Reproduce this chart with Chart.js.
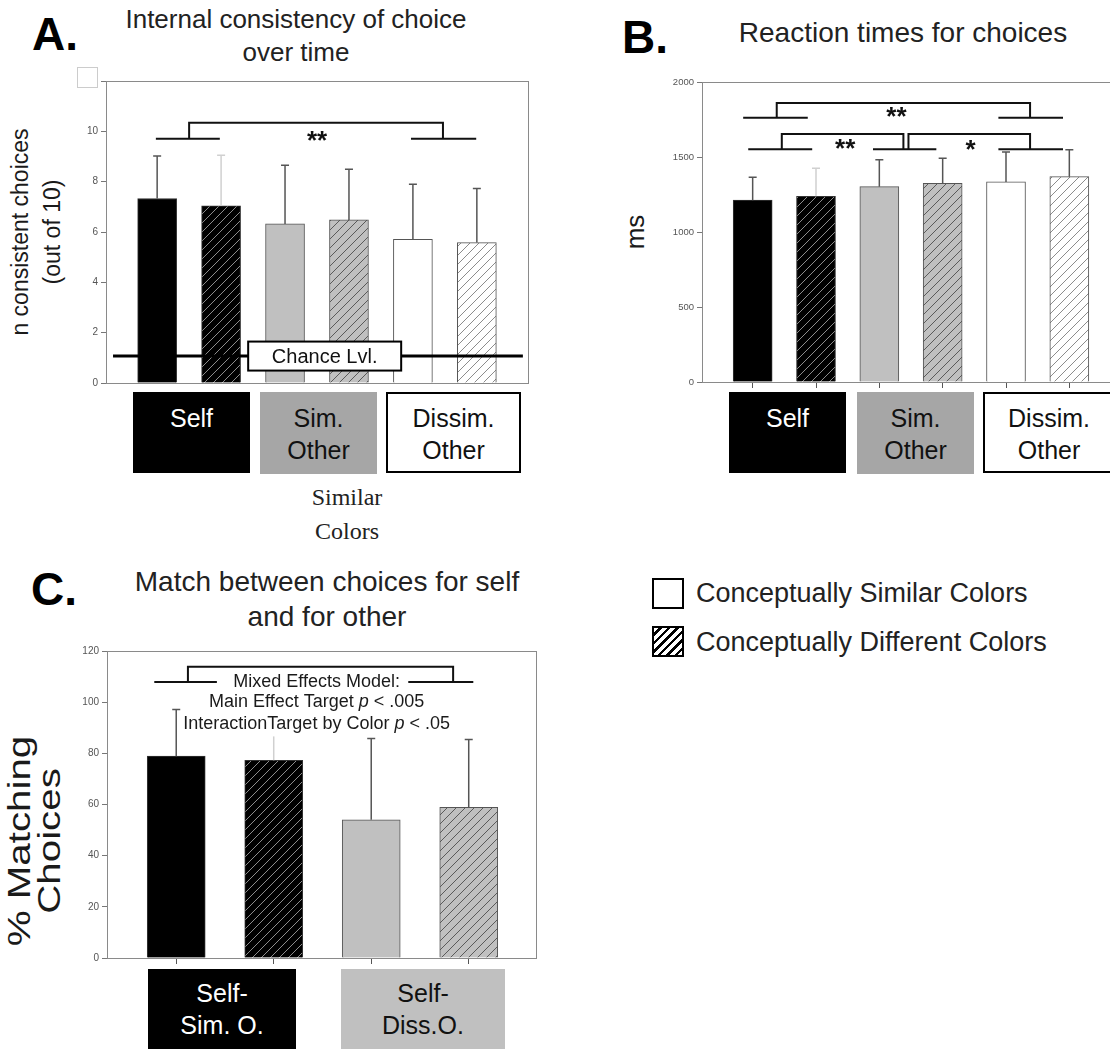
<!DOCTYPE html>
<html><head><meta charset="utf-8">
<script src="https://cdn.jsdelivr.net/npm/chart.js@4.4.1/dist/chart.umd.min.js"></script>
<style>
html,body{margin:0;padding:0;background:#fff;overflow:hidden;width:1110px;height:1049px;}
body{position:relative;font-family:"Liberation Sans",Arial,sans-serif;color:#1a1a1a;}
canvas{position:absolute;}
.t{position:absolute;text-align:center;white-space:nowrap;color:#222;}
.letter{position:absolute;font-weight:bold;font-size:46px;line-height:46px;color:#000;}
.ylab{position:absolute;text-align:center;white-space:nowrap;transform-origin:center center;color:#1a1a1a;}
.box{position:absolute;box-sizing:border-box;text-align:center;font-size:25px;line-height:32px;white-space:nowrap;overflow:hidden;}
</style></head>
<body>
<div class="letter" style="left:32px;top:11px;">A.</div>
<div class="t" style="left:96px;top:3px;width:400px;font-size:26px;line-height:33px;">Internal consistency of choice<br>over time</div>
<div style="position:absolute;left:77px;top:67px;width:19px;height:19px;border:1px solid #ccc;"></div>
<div class="ylab" style="left:-94px;top:200px;width:260px;height:64px;font-size:23px;line-height:32px;transform:rotate(-90deg);">n consistent choices<br>(out of 10)</div>
<canvas id="cA" width="500" height="330" style="left:40px;top:70px;"></canvas>
<div class="box" style="left:133px;top:392px;width:117px;height:81px;background:#000;color:#fff;padding-top:10px;">Self</div>
<div class="box" style="left:260px;top:392px;width:117px;height:82px;background:#a6a6a6;color:#111;padding-top:10px;">Sim.<br>Other</div>
<div class="box" style="left:386px;top:392px;width:135px;height:81px;background:#fff;border:2px solid #000;color:#111;padding-top:8px;">Dissim.<br>Other</div>
<div class="t" style="left:247px;top:480px;width:200px;font-family:'Liberation Serif','Times New Roman',serif;font-size:24px;line-height:34px;color:#222;">Similar<br>Colors</div>

<div class="letter" style="left:622px;top:14px;">B.</div>
<div class="t" style="left:703px;top:16px;width:400px;font-size:28px;line-height:34px;">Reaction times for choices</div>
<div class="ylab" style="left:585px;top:216px;width:100px;height:32px;font-size:26px;line-height:32px;transform:rotate(-90deg);">ms</div>
<canvas id="cB" width="510" height="340" style="left:620px;top:60px;"></canvas>
<div class="box" style="left:729px;top:392px;width:117px;height:81px;background:#000;color:#fff;padding-top:10px;">Self</div>
<div class="box" style="left:857px;top:392px;width:117px;height:82px;background:#a6a6a6;color:#111;padding-top:10px;">Sim.<br>Other</div>
<div class="box" style="left:983px;top:392px;width:132px;height:81px;background:#fff;border:2px solid #000;color:#111;padding-top:8px;">Dissim.<br>Other</div>

<div class="letter" style="left:31px;top:566px;">C.</div>
<div class="t" style="left:107px;top:564px;width:440px;font-size:28px;line-height:35px;">Match between choices for self<br>and for other</div>
<div class="ylab" style="left:-115px;top:811px;width:300px;height:60px;font-size:31px;line-height:30px;transform:rotate(-90deg) scale(1.3,1);">% Matching<br>Choices</div>
<canvas id="cC" width="510" height="345" style="left:40px;top:630px;"></canvas>
<div class="box" style="left:148px;top:969px;width:148px;height:90px;background:#000;color:#fff;padding-top:8px;">Self-<br>Sim. O.</div>
<div class="box" style="left:341px;top:969px;width:164px;height:90px;background:#c0c0c0;color:#111;padding-top:8px;">Self-<br>Diss.O.</div>

<div style="position:absolute;left:652px;top:578px;width:28px;height:27px;border:2px solid #000;background:#fff;"></div>
<div class="t" style="left:696px;top:576px;font-size:27px;line-height:34px;text-align:left;">Conceptually Similar Colors</div>
<div style="position:absolute;left:652px;top:626px;width:28px;height:27px;border:2px solid #000;background:repeating-linear-gradient(135deg,#fff 0px,#fff 3.5px,#000 3.5px,#000 6px);"></div>
<div class="t" style="left:696px;top:625px;font-size:27px;line-height:34px;text-align:left;">Conceptually Different Colors</div>

<script>
const FONT = '"Liberation Sans", Arial, sans-serif';

// ---------- Panel A: internal consistency (n of 10) ----------
const groupsA = ['Self', 'Self', 'Sim. Other', 'Sim. Other', 'Dissim. Other', 'Dissim. Other'];
const colorCondA = ['Similar', 'Different', 'Similar', 'Different', 'Similar', 'Different'];
const positionsA = [1, 2, 3, 4, 5, 6];
const valuesA = [7.33, 7.04, 6.32, 6.48, 5.71, 5.58];
const errorsA = [1.69, 2.01, 2.33, 2.01, 2.19, 2.15];
const ticksA = [0, 2, 4, 6, 8, 10, 12];
const chanceLevelA = 1.07;

// ---------- Panel B: reaction times (ms) ----------
const groupsB = ['Self', 'Self', 'Sim. Other', 'Sim. Other', 'Dissim. Other', 'Dissim. Other'];
const positionsB = [1, 2, 3, 4, 5, 6];
const valuesB = [1212, 1238, 1302, 1325, 1334, 1369];
const errorsB = [153, 187, 180, 166, 199, 179];
const ticksB = [0, 500, 1000, 1500, 2000];

// ---------- Panel C: % matching choices ----------
const groupsC = ['Self-Sim. O.', 'Self-Sim. O.', 'Self-Diss.O.', 'Self-Diss.O.'];
const positionsC = [1, 2, 3, 4];
const valuesC = [78.9, 77.3, 54.0, 58.9];
const errorsC = [18.2, 16.0, 31.8, 26.5];
const ticksC = [0, 20, 40, 60, 80, 100, 120];

function hatch(bg, fg, size, lw) {
  const c = document.createElement('canvas');
  c.width = c.height = size;
  const x = c.getContext('2d');
  x.fillStyle = bg; x.fillRect(0, 0, size, size);
  x.strokeStyle = fg; x.lineWidth = lw;
  x.beginPath();
  x.moveTo(0, size); x.lineTo(size, 0);
  x.moveTo(-size / 2, size / 2); x.lineTo(size / 2, -size / 2);
  x.moveTo(size / 2, size * 1.5); x.lineTo(size * 1.5, size / 2);
  x.stroke();
  return x.createPattern(c, 'repeat');
}
const F = {
  black: '#000000',
  blackH: hatch('#000000', '#8c8c8c', 9, 1),
  gray: '#c0c0c0',
  grayH: hatch('#c0c0c0', '#5a5a5a', 9, 1),
  white: '#ffffff',
  whiteH: hatch('#ffffff', '#8c8c8c', 9, 1)
};

function drawRich(ctx, segs, cx, cy, size, bg) {
  let w = 0;
  const parts = segs.map(s => {
    const it = typeof s !== 'string';
    const txt = it ? s.i : s;
    ctx.font = (it ? 'italic ' : '') + size + 'px ' + FONT;
    const m = ctx.measureText(txt).width;
    w += m;
    return {txt, it, m};
  });
  let x = cx - w / 2;
  if (bg) { ctx.fillStyle = '#fff'; ctx.fillRect(x - 3, cy - size * 0.62, w + 6, size * 1.3); }
  ctx.fillStyle = '#1a1a1a';
  ctx.textBaseline = 'middle'; ctx.textAlign = 'left';
  parts.forEach(p => {
    ctx.font = (p.it ? 'italic ' : '') + size + 'px ' + FONT;
    ctx.fillText(p.txt, x, cy);
    x += p.m;
  });
}

function annoPlugin(cfg) {
  return {
    id: 'anno',
    afterDatasetsDraw(chart) {
      const ctx = chart.ctx, xs = chart.scales.x, ys = chart.scales.y, ca = chart.chartArea;
      const X = v => xs.getPixelForValue(v), Y = v => ys.getPixelForValue(v);
      ctx.save();
      // frame
      ctx.strokeStyle = '#8a8a8a'; ctx.lineWidth = 1;
      ctx.strokeRect(Math.round(ca.left) + 0.5, Math.round(ca.top) + 0.5, Math.round(ca.right - ca.left), Math.round(ca.bottom - ca.top));
      // error bars
      cfg.vals.forEach((v, i) => {
        const x = X(cfg.pos[i]), y0 = Y(v), y1 = Y(v + cfg.err[i]);
        ctx.strokeStyle = cfg.errColors[i]; ctx.lineWidth = 1.5;
        ctx.beginPath();
        ctx.moveTo(x, y0); ctx.lineTo(x, y1);
        ctx.moveTo(x - 4, y1); ctx.lineTo(x + 4, y1);
        ctx.stroke();
      });
      // chance level line
      if (cfg.chance) {
        const c = cfg.chance;
        ctx.strokeStyle = '#000'; ctx.lineWidth = 3;
        ctx.beginPath(); ctx.moveTo(X(c.x1), Y(c.y)); ctx.lineTo(X(c.x2), Y(c.y)); ctx.stroke();
        const bx = X(c.boxX), by = Y(c.y);
        ctx.fillStyle = '#fff';
        ctx.fillRect(bx - c.w / 2, by - c.h / 2, c.w, c.h);
        ctx.lineWidth = 2; ctx.strokeStyle = '#000';
        ctx.strokeRect(bx - c.w / 2, by - c.h / 2, c.w, c.h);
        ctx.fillStyle = '#111'; ctx.font = '20px ' + FONT;
        ctx.textAlign = 'center'; ctx.textBaseline = 'middle';
        ctx.fillText(c.text, bx, by + 1);
      }
      // significance brackets
      ctx.strokeStyle = '#111'; ctx.lineWidth = 2;
      (cfg.short || []).forEach(s => {
        ctx.beginPath(); ctx.moveTo(X(s[0]), Y(s[2])); ctx.lineTo(X(s[1]), Y(s[2])); ctx.stroke();
      });
      (cfg.brackets || []).forEach(b => {
        ctx.beginPath();
        ctx.moveTo(X(b[0]), Y(b[2])); ctx.lineTo(X(b[0]), Y(b[3]));
        ctx.lineTo(X(b[1]), Y(b[3])); ctx.lineTo(X(b[1]), Y(b[2]));
        ctx.stroke();
      });
      (cfg.stars || []).forEach(s => {
        ctx.fillStyle = '#111'; ctx.font = 'bold 26px ' + FONT;
        ctx.textAlign = 'center'; ctx.textBaseline = 'alphabetic';
        ctx.fillText(s[2], X(s[0]), Y(s[1]) + 14);
      });
      (cfg.texts || []).forEach(t => drawRich(ctx, t.segs, X(t.x), Y(t.y), 18, true));
      ctx.restore();
    }
  };
}

function makeChart(id, o) {
  return new Chart(document.getElementById(id), {
    type: 'bar',
    data: {
      datasets: [{
        data: o.vals.map((v, i) => ({x: o.pos[i], y: v})),
        backgroundColor: o.fills,
        borderColor: o.borders,
        borderWidth: 1,
        barThickness: o.barW,
        borderSkipped: 'bottom'
      }]
    },
    options: {
      responsive: false, animation: false,
      layout: {padding: o.pad},
      plugins: {legend: {display: false}, tooltip: {enabled: false}},
      scales: {
        x: {
          type: 'linear', min: o.xmin, max: o.xmax, offset: false,
          afterBuildTicks: a => { a.ticks = o.pos.map(v => ({value: v})); },
          afterFit: a => { a.height = 10; },
          ticks: {display: true, callback: () => '', font: {size: 1}, padding: 0},
          grid: {offset: false, drawOnChartArea: false, drawTicks: o.xTicks, tickLength: 6, color: '#555', lineWidth: 1},
          border: {color: '#777', width: 1}
        },
        y: {
          type: 'linear', min: 0, max: o.ymax,
          afterBuildTicks: a => { a.ticks = o.yticks.map(v => ({value: v})); },
          afterFit: a => { a.width = o.yW; },
          ticks: {
            font: {size: o.tickSize, family: FONT}, color: '#555', padding: 3,
            callback: v => (o.hideTop && v === o.ymax) ? '' : String(v)
          },
          grid: {drawOnChartArea: false, tickLength: 5, color: '#777'},
          border: {color: '#777', width: 1}
        }
      }
    },
    plugins: [annoPlugin(o)]
  });
}

const fills6 = [F.black, F.blackH, F.gray, F.grayH, F.white, F.whiteH];
const borders6 = ['#333', '#333', '#555', '#555', '#555', '#555'];
const err6 = ['#555', '#d0d0d0', '#555', '#555', '#555', '#555'];

makeChart('cA', {
  vals: valuesA, err: errorsA, pos: positionsA,
  fills: fills6, borders: borders6, errColors: err6,
  barW: 39, xmin: 0.2, xmax: 6.8, ymax: 12, yticks: ticksA, hideTop: true,
  yW: 66, tickSize: 10, xTicks: false,
  pad: {left: 0, top: 11, right: 12, bottom: 7},
  chance: {x1: 0.31, x2: 6.72, y: chanceLevelA, boxX: 3.62, w: 153, h: 29, text: 'Chance Lvl.'},
  short: [[0.98, 1.98, 9.71], [4.97, 5.99, 9.71]],
  brackets: [[1.5, 5.47, 9.71, 10.34]],
  stars: [[3.5, 9.85, '**']]
});

makeChart('cB', {
  vals: valuesB, err: errorsB, pos: positionsB,
  fills: fills6, borders: borders6, errColors: err6,
  barW: 39, xmin: 0.2, xmax: 6.8, ymax: 2000, yticks: ticksB, hideTop: false,
  yW: 82, tickSize: 9.5, xTicks: true,
  pad: {left: 0, top: 22, right: 10, bottom: 8},
  short: [[0.85, 1.87, 1761], [4.88, 5.90, 1761], [0.93, 1.94, 1551], [2.90, 3.90, 1551], [4.88, 5.90, 1551]],
  brackets: [[1.38, 5.38, 1761, 1860], [1.46, 3.38, 1551, 1653], [3.46, 5.38, 1551, 1653]],
  stars: [[3.27, 1807, '**'], [2.46, 1595, '**'], [4.44, 1586, '*']]
});

makeChart('cC', {
  vals: valuesC, err: errorsC, pos: positionsC,
  fills: [F.black, F.blackH, F.gray, F.grayH],
  borders: ['#333', '#333', '#555', '#555'],
  errColors: ['#555', '#d0d0d0', '#555', '#555'],
  barW: 58, xmin: 0.29, xmax: 4.69, ymax: 120, yticks: ticksC, hideTop: false,
  yW: 67, tickSize: 10, xTicks: true,
  pad: {left: 0, top: 21, right: 14, bottom: 7},
  short: [[0.775, 1.417, 107.9], [3.38, 4.047, 107.9]],
  brackets: [[1.12, 3.84, 107.9, 113.8]],
  texts: [
    {x: 2.44, y: 107.9, segs: ['Mixed Effects Model:']},
    {x: 2.44, y: 100.1, segs: ['Main Effect Target ', {i: 'p'}, ' < .005']},
    {x: 2.44, y: 91.4, segs: ['InteractionTarget by Color ', {i: 'p'}, ' < .05']}
  ]
});
</script>
</body></html>
